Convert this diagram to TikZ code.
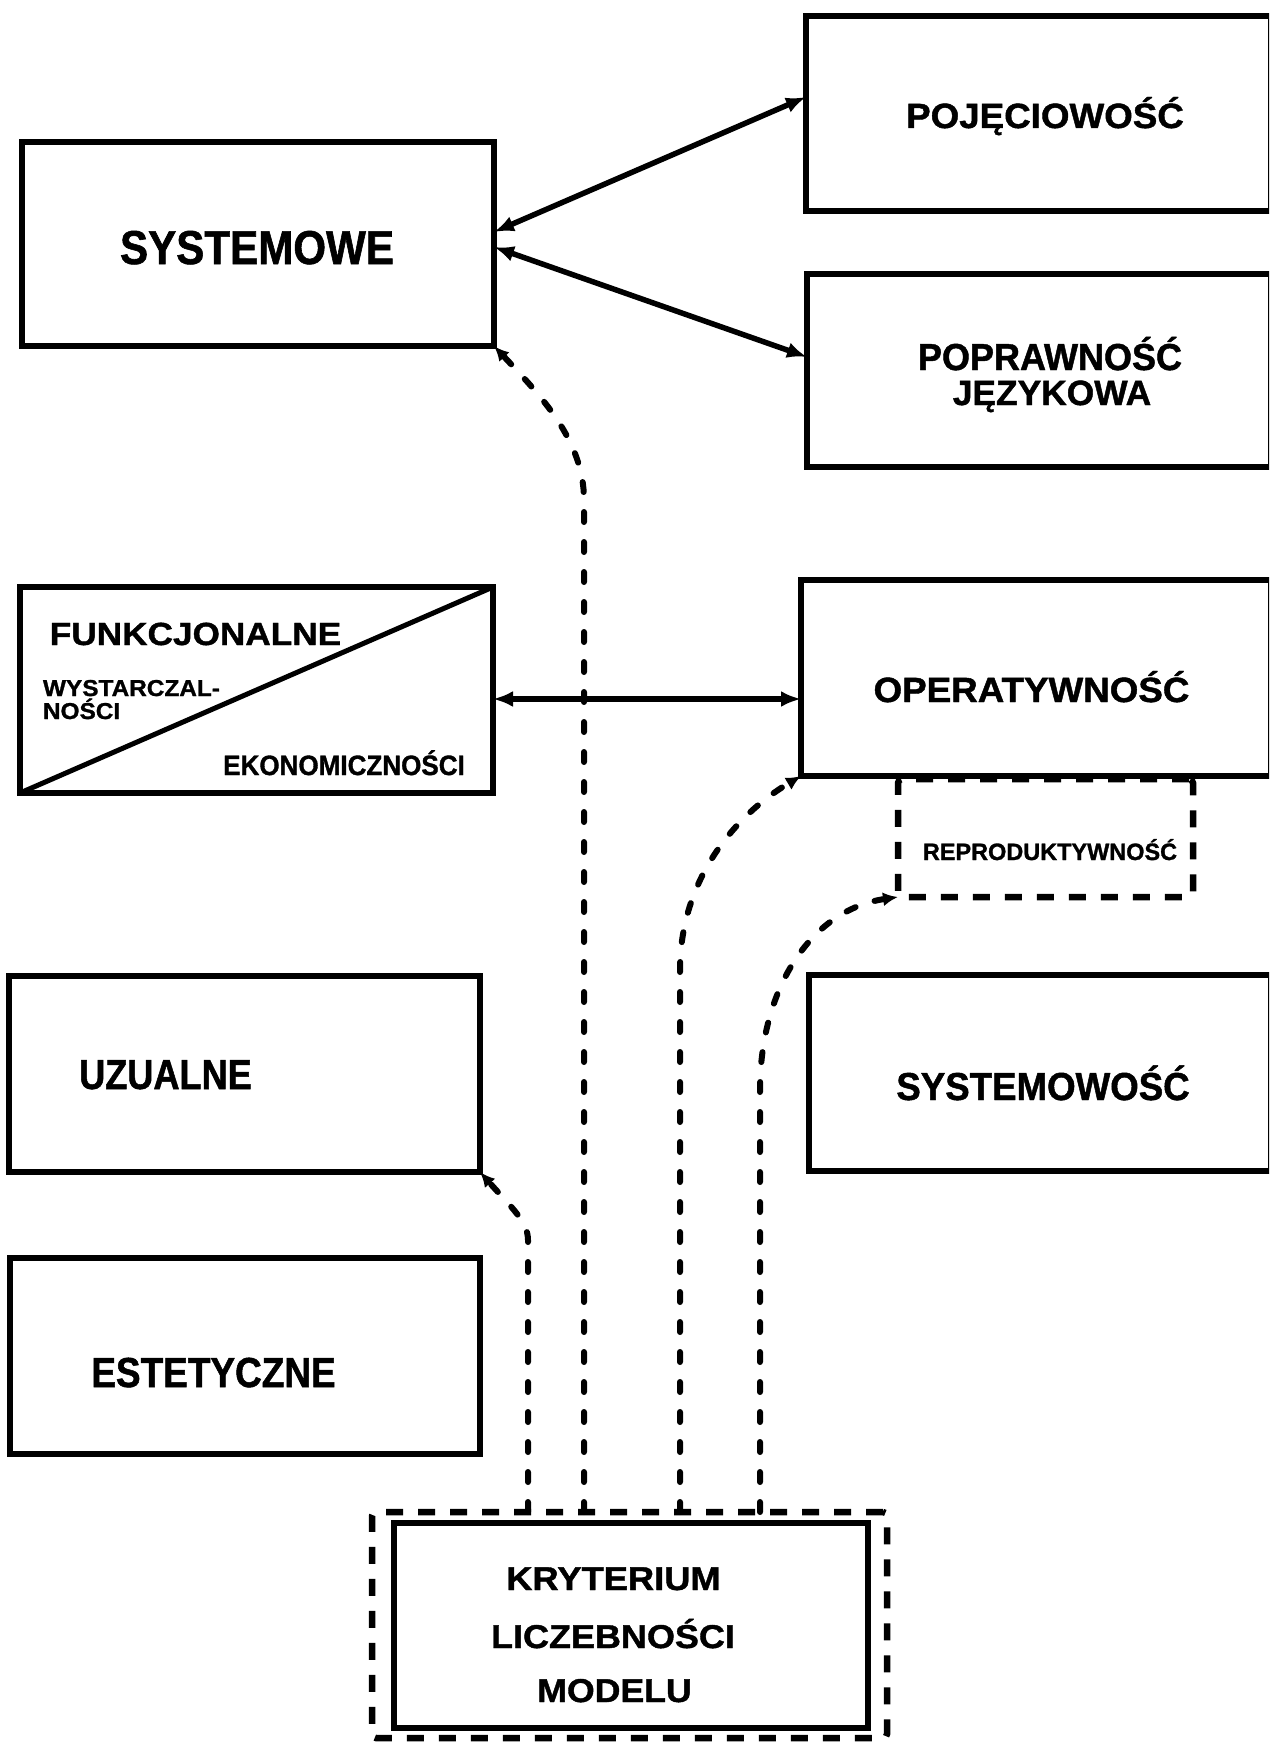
\documentclass[tikz,border=0pt]{standalone}
\usepackage{fontspec}
\setmainfont{Liberation Sans}
\usetikzlibrary{arrows.meta}
\newcommand{\lbl}[3]{{\fontsize{#1}{#1}\selectfont\bfseries\addfontfeatures{FakeStretch=#2,FakeBold=1.2}#3}}
\tikzset{
  box/.style={draw, line width=6pt, inner sep=0pt, outer sep=0pt},
  dbox/.style={draw, line width=6.5pt, dash pattern=on 17pt off 15pt, inner sep=0pt, outer sep=0pt, rounded corners=4pt},
  txt/.style={inner sep=0pt, outer sep=0pt},
  dbl/.style={line width=5.5pt, {Latex[length=20pt,width=16pt]}-{Latex[length=20pt,width=16pt]}},
  dcon/.style={line width=6pt, dash pattern=on 10pt off 20pt, line cap=round, -{Latex[length=15pt,width=14pt]}},
}
\begin{document}
\begin{tikzpicture}[x=1pt,y=-1pt]
\useasboundingbox (0,0) rectangle (1269,1742);
\clip (0,0) rectangle (1269,1742);
\fill[white] (0,0) rectangle (1269,1742);

% boxes
\node[box, minimum width=472pt, minimum height=204pt] (sys) at (258,244) {};
\node[box, minimum width=465pt, minimum height=195pt] (poj) at (1038.5,113.5) {};
\node[box, minimum width=464pt, minimum height=193pt] (popr) at (1039,370.5) {};
\node[box, minimum width=473pt, minimum height=206pt] (funk) at (256.5,690) {};
\node[box, minimum width=470pt, minimum height=196pt] (oper) at (1036,678) {};
\node[dbox, minimum width=295pt, minimum height=118pt] (repro) at (1045.5,838) {};
\node[box, minimum width=471pt, minimum height=196pt] (uzu) at (244.5,1074) {};
\node[box, minimum width=462pt, minimum height=196pt] (sysw) at (1040,1073) {};
\node[box, minimum width=470pt, minimum height=196pt] (est) at (245,1356) {};
\node[box, minimum width=474pt, minimum height=205pt] (kryt) at (631,1625.5) {};
\node[dbox, minimum width=515pt, minimum height=226pt] (outer) at (629.5,1625) {};

\draw[line width=5pt] (funk.south west) -- (funk.north east);

% texts
\node[txt, anchor=base] (tsys) at (257,264) {\lbl{47.5}{0.887}{SYSTEMOWE}};
\node[txt, anchor=base] (tpoj) at (1045,128) {\lbl{35}{1.05}{POJĘCIOWOŚĆ}};
\node[txt, anchor=base] (tpopr1) at (1050,370) {\lbl{37.5}{0.96}{POPRAWNOŚĆ}};
\node[txt, anchor=base] (tpopr2) at (1052,405) {\lbl{35}{1.01}{JĘZYKOWA}};
\node[txt, anchor=base] (tfunk) at (195.5,645) {\lbl{32}{1.1}{FUNKCJONALNE}};
\node[txt, anchor=base west] (twys1) at (43,696) {\lbl{23}{1.06}{WYSTARCZAL-}};
\node[txt, anchor=base west] (twys2) at (43,719) {\lbl{23}{1.06}{NOŚCI}};
\node[txt, anchor=base] (tekon) at (344,775) {\lbl{28}{0.93}{EKONOMICZNOŚCI}};
\node[txt, anchor=base] (toper) at (1031.5,702) {\lbl{35}{1.05}{OPERATYWNOŚĆ}};
\node[txt, anchor=base] (trepro) at (1050,860) {\lbl{23.7}{0.99}{REPRODUKTYWNOŚĆ}};
\node[txt, anchor=base] (tuzu) at (165.5,1089) {\lbl{42}{0.86}{UZUALNE}};
\node[txt, anchor=base] (test) at (213.5,1387) {\lbl{42}{0.88}{ESTETYCZNE}};
\node[txt, anchor=base] (tsysw) at (1043,1100) {\lbl{39}{0.94}{SYSTEMOWOŚĆ}};
\node[txt, anchor=base] (tk1) at (613.5,1590) {\lbl{33}{1.1}{KRYTERIUM}};
\node[txt, anchor=base] (tk2) at (613,1648) {\lbl{33}{1.09}{LICZEBNOŚCI}};
\node[txt, anchor=base] (tk3) at (614.5,1702) {\lbl{33}{1.08}{MODELU}};

% solid double arrows
\draw[dbl] ([yshift=12pt]sys.east) -- ([yshift=16.5pt]poj.west);
\draw[dbl] ([yshift=-3pt]sys.east) -- ([yshift=13.5pt]popr.west);
\draw[dbl] ([yshift=-9pt]funk.east) -- ([yshift=-9pt]funk.east -| oper.west);

% dashed connectors from the criterion box
\draw[dcon] ([xshift=-45.5pt]outer.north) -- (584,500) .. controls (584,440) and (540,395) .. (sys.south east);
\draw[dcon] ([xshift=-101.5pt]outer.north) -- (528,1240) .. controls (528,1222) and (512,1208) .. (uzu.south east);
\draw[dcon] ([xshift=50.5pt]outer.north) -- (680,970) .. controls (680,880) and (735,815) .. (oper.south west);
\draw[dcon] ([xshift=130.5pt]outer.north) -- (760,1090) .. controls (760,990) and (810,910) .. (repro.south west);
\end{tikzpicture}
\end{document}
